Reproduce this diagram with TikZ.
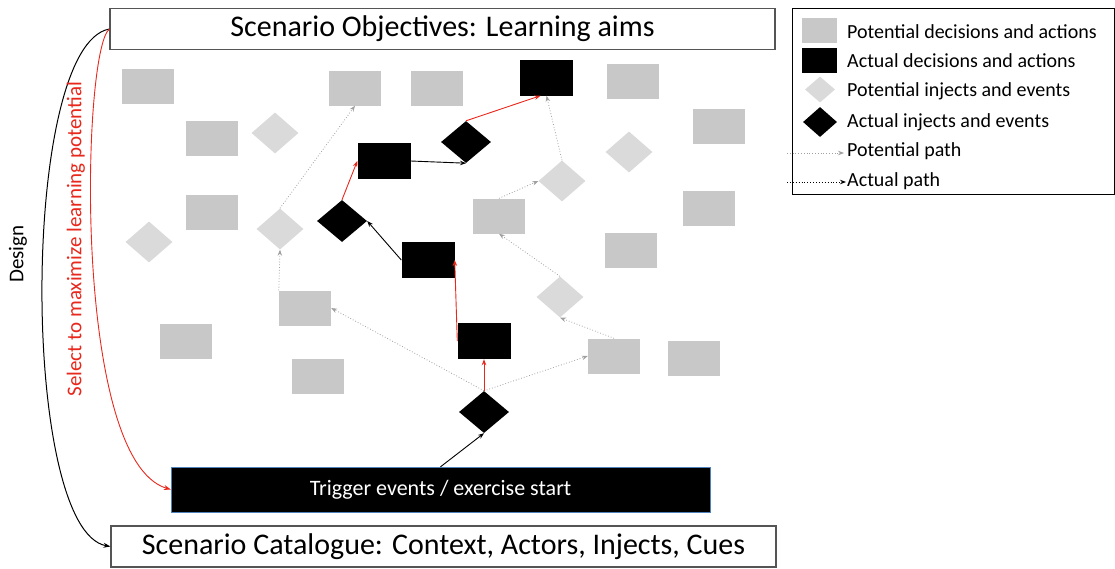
\documentclass[tikz,border=0pt]{standalone}
\usepackage{fontspec}
\setmainfont{Carlito}
\usetikzlibrary{positioning,shapes.geometric,arrows.meta}

\definecolor{potgray}{RGB}{200,200,200}
\definecolor{injgray}{RGB}{218,218,218}
\definecolor{pathgray}{RGB}{160,160,160}
\definecolor{boxline}{RGB}{85,85,85}
\definecolor{trigblue}{RGB}{79,129,189}
\definecolor{selred}{RGB}{232,40,28}

\begin{document}
\begin{tikzpicture}[x=1pt,y=-1pt,
  every node/.style={scale=1.0},
  potbox/.style={rectangle,fill=potgray,minimum width=52pt,minimum height=35pt,inner sep=0pt},
  actbox/.style={rectangle,fill=black,minimum width=53pt,minimum height=36pt,inner sep=0pt},
  potdiamond/.style={diamond,fill=injgray,minimum width=47pt,minimum height=41pt,inner sep=0pt},
  actdiamond/.style={diamond,fill=black,minimum width=50pt,minimum height=42pt,inner sep=0pt},
  banner/.style={rectangle,draw=boxline,line width=1.2pt,fill=white,minimum width=665pt,minimum height=41pt,font=\fontsize{30}{34}\selectfont},
  potpath/.style={draw=pathgray,dotted,line width=0.8pt,-{Stealth[length=6pt,width=4.5pt]}},
  actpath/.style={draw=black,line width=0.9pt,-{Stealth[length=6pt,width=4.5pt]}},
  redpath/.style={draw=selred,line width=0.9pt,-{Stealth[length=6pt,width=4.5pt]}},
  keytext/.style={anchor=west,font=\fontsize{20}{24}\selectfont,inner sep=0pt},
  sidetext/.style={rotate=90,font=\fontsize{21}{25}\selectfont},
]
\useasboundingbox (0,0) rectangle (1115,568);

% banners
\node (aims) [banner] at (442.5,29) {Scenario Objectives: Learning aims};
\node (catalogue) [banner] at (443.5,546.5) {Scenario Catalogue: Context, Actors, Injects, Cues};
\node (trigger) [rectangle,fill=black,draw=trigblue,thin,minimum width=539pt,minimum height=45pt,
  text=white,font=\fontsize{22}{26}\selectfont] at (440.5,489.5) {Trigger events / exercise start};

% potential decisions and actions
\node (pa) [potbox] at (148,86) {};
\node (pb) [potbox] at (212,138) {};
\node (pc) [potbox] at (212,212) {};
\node (pd) [potbox] at (355,88) {};
\node (pe) [potbox] at (437,88) {};
\node (pf) [potbox] at (633,81) {};
\node (pg) [potbox] at (719,126) {};
\node (ph) [potbox] at (709,208) {};
\node (pi) [potbox] at (499,216) {};
\node (pj) [potbox] at (631,250) {};
\node (pk) [potbox] at (305,308) {};
\node (pl) [potbox] at (186,341) {};
\node (pm) [potbox] at (318,376) {};
\node (pn) [potbox] at (614,356) {};
\node (po) [potbox] at (694,358) {};

% potential injects and events
\node (ia) [potdiamond] at (275,133) {};
\node (ib) [potdiamond] at (149,242) {};
\node (ic) [potdiamond] at (280,229) {};
\node (id) [potdiamond] at (629,152) {};
\node (ie) [potdiamond] at (562,181) {};
\node (if) [potdiamond] at (560,297) {};

% actual decisions, injects and events
\node (act1) [actbox] at (484,341) {};
\node (act2) [actbox] at (428,260) {};
\node (act3) [actbox] at (384,161) {};
\node (act4) [actbox] at (546.5,77.5) {};
\node (ev0) [actdiamond] at (484,412) {};
\node (ev1) [actdiamond] at (342,221) {};
\node (ev2) [actdiamond] at (466,142) {};

% potential paths
\draw[potpath] (ev0.north) -- (pk.east);
\draw[potpath] (ev0.north) -- (pn.west);
\draw[potpath] (pk.north west) -- (ic.south);
\draw[potpath] (ic.north) -- (pd.south);
\draw[potpath] (pn.north) -- (if.south);
\draw[potpath] (if.north) -- (pi.south);
\draw[potpath] (pi.north) -- (ie.west);
\draw[potpath] (ie.north) -- (act4.south);

% actual path
\draw[actpath] (trigger.north) -- (ev0.south);
\draw[redpath] (ev0.north) -- (act1.south);
\draw[redpath] (act1.west) -- (act2.east);
\draw[actpath] (act2.west) -- (ev1.east);
\draw[redpath] (ev1.north) -- (act3.west);
\draw[actpath] (act3.east) -- (ev2.south);
\draw[redpath] (ev2.north) -- ([xshift=-6pt]act4.south);

% design loop
\draw[black,line width=1pt,-{Stealth[length=7pt,width=5pt]}] (aims.west) .. controls (20,45) and (20,530) .. (catalogue.west);
\draw[selred,line width=0.9pt,-{Stealth[length=7pt,width=5pt]}] (aims.west) .. controls (82,50) and (72,460) .. (trigger.west);
\node (design) [sidetext] at (18,254) {Design};
\node (select) [sidetext,text=selred] at (76,239) {Select to maximize learning potential};

% legend
\draw[black,line width=0.8pt] (792,8) rectangle (1114.5,194);
\node (k1) [rectangle,fill=potgray,minimum width=35pt,minimum height=25pt,inner sep=0pt] at (819.5,30.5) {};
\node (k2) [rectangle,fill=black,minimum width=35pt,minimum height=25pt,inner sep=0pt] at (819.5,60) {};
\node (k3) [diamond,fill=injgray,minimum width=30pt,minimum height=26pt,inner sep=0pt] at (820,89.5) {};
\node (k4) [diamond,fill=black,minimum width=34pt,minimum height=30pt,inner sep=0pt] at (820,122) {};
\node (kt1) [keytext] at (847,32) {Potential decisions and actions};
\node (kt2) [keytext] at (847,61) {Actual decisions and actions};
\node (kt3) [keytext] at (847,91) {Potential injects and events};
\node (kt4) [keytext] at (847,122) {Actual injects and events};
\node (kt5) [keytext] at (847,151) {Potential path};
\node (kt6) [keytext] at (847,181) {Actual path};
\coordinate (kp5) at (787,153);
\coordinate (kp6) at (787,182);
\draw[potpath] (kp5) -- ([xshift=-3pt]kt5.west |- kp5);
\draw[black,dotted,line width=0.9pt,-{Stealth[length=6pt,width=4.5pt]}] (kp6) -- ([xshift=-1pt]kt6.west |- kp6);
\end{tikzpicture}
\end{document}
